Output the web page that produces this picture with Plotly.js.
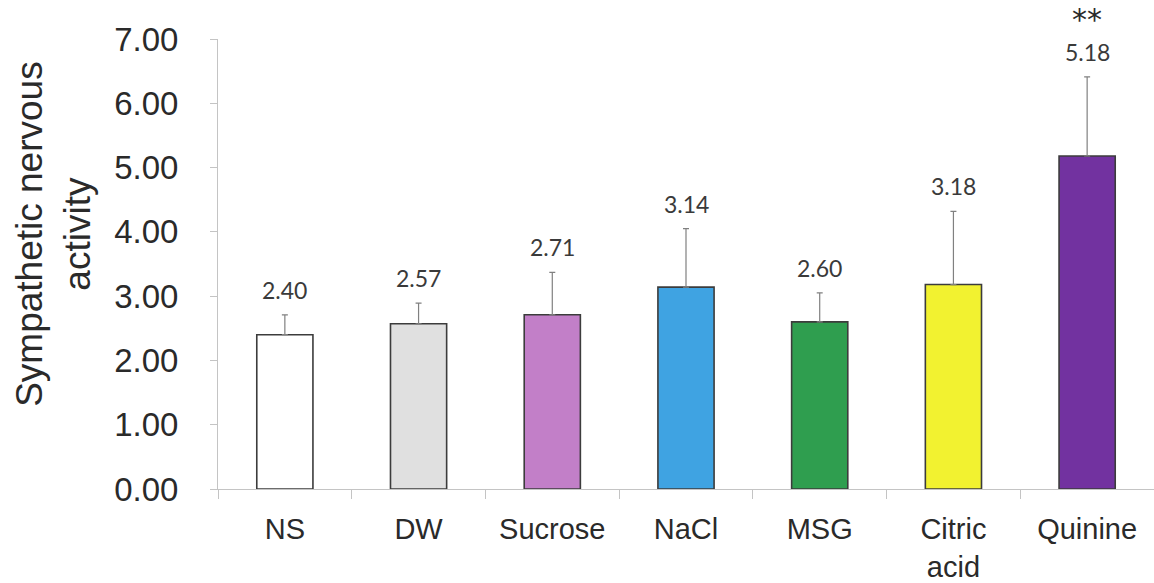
<!DOCTYPE html>
<html>
<head>
<meta charset="utf-8">
<script src="https://cdn.plot.ly/plotly-3.0.1.min.js"></script>
<style>html,body{margin:0;padding:0;background:#fff;}#chart{width:1154px;height:583px;}</style>
</head>
<body>
<div id="chart"></div>
<script>
var categories = ["NS", "DW", "Sucrose", "NaCl", "MSG", "Citric<br>acid", "Quinine"];
var values = [2.40, 2.57, 2.71, 3.14, 2.60, 3.18, 5.18];
var errors = [0.31, 0.32, 0.66, 0.91, 0.45, 1.14, 1.23];
var significance = ["", "", "", "", "", "", "**"];
var barColors = ["#ffffff", "#e0e0e0", "#c27fc8", "#3fa3e2", "#2f9e4f", "#f2f230", "#7232a0"];
var yTicks = [0, 1, 2, 3, 4, 5, 6, 7];

var trace = {
  type: "bar",
  x: categories,
  y: values,
  width: 0.42,
  marker: { color: barColors, line: { color: "#3c3c3c", width: 1.6 } },
  error_y: {
    type: "data", symmetric: false, array: errors,
    arrayminus: values.map(function(){ return 0; }),
    color: "#808080", thickness: 1.2, width: 3
  },
  hoverinfo: "none"
};

var labelFont = { family: "Lato, 'Open Sans', sans-serif", size: 23, color: "#3a3a3a" };
var annotations = [];
values.forEach(function(v, i) {
  annotations.push({
    x: categories[i], y: v + errors[i], xref: "x", yref: "y",
    text: v.toFixed(2), showarrow: false, xanchor: "center", yanchor: "bottom",
    yshift: 9, font: labelFont
  });
  if (significance[i]) {
    annotations.push({
      x: categories[i], y: v + errors[i], xref: "x", yref: "y",
      text: significance[i], showarrow: false, xanchor: "center", yanchor: "bottom",
      yshift: 38, font: { family: "'DejaVu Sans', sans-serif", size: 30, color: "#2a2a2a" }
    });
  }
});
annotations.push({
  xref: "paper", yref: "paper", x: 0, y: 0.567, xshift: -164,
  xanchor: "center", yanchor: "middle", textangle: -90, showarrow: false,
  text: "Sympathetic nervous<br>activity",
  font: { family: "'Liberation Sans', Arial, sans-serif", size: 37, color: "#2a2a2a" }
});

var layout = {
  width: 1154, height: 583,
  margin: { l: 218, r: 0, t: 39, b: 94, pad: 0 },
  paper_bgcolor: "#fff", plot_bgcolor: "#fff",
  showlegend: false,
  xaxis: {
    type: "category", range: [-0.5, 6.5],
    showline: true, linecolor: "#c4c4c4", linewidth: 1,
    ticks: "outside", tickson: "boundaries", ticklen: 9, tickcolor: "#c4c4c4",
    showgrid: false, zeroline: false,
    tickfont: { family: "'Liberation Sans', Arial, sans-serif", size: 29, color: "#2a2a2a" },
    ticklabelstandoff: 14
  },
  yaxis: {
    range: [0, 7], tickvals: yTicks, ticktext: yTicks.map(function(t){ return t.toFixed(2); }),
    showline: true, linecolor: "#c4c4c4", linewidth: 1,
    ticks: "outside", ticklen: 7, tickcolor: "#c4c4c4",
    showgrid: false, zeroline: false,
    tickfont: { family: "'Liberation Sans', Arial, sans-serif", size: 33, color: "#2a2a2a" },
    ticklabelstandoff: 25
  },
  annotations: annotations
};

Plotly.newPlot("chart", [trace], layout, { staticPlot: true, displayModeBar: false });
</script>
</body>
</html>
